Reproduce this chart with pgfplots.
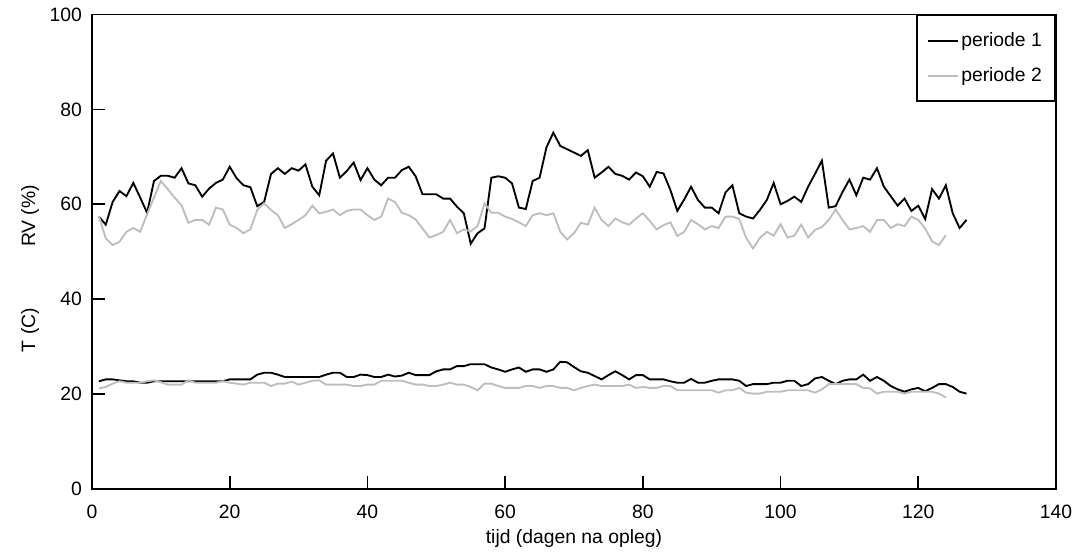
\documentclass[border=0pt]{standalone}
\usepackage{fontspec}
\setmainfont{Liberation Sans}
\usepackage{pgfplots}
\usepackage{pgfplotstable}
\pgfplotsset{compat=1.18}

% periode 1: dag, RV, T
\pgfplotstableread{
dag rv t
1 57.4 22.7
2 55.7 23.1
3 60.5 23.1
4 62.8 22.9
5 61.7 22.7
6 64.5 22.7
7 61.4 22.4
8 58.2 22.4
9 64.9 22.7
10 66.0 22.7
11 66.0 22.7
12 65.6 22.7
13 67.6 22.7
14 64.4 22.7
15 64.0 22.7
16 61.6 22.7
17 63.3 22.7
18 64.5 22.7
19 65.2 22.7
20 67.9 23.1
21 65.5 23.1
22 64.0 23.1
23 63.6 23.1
24 59.6 24.1
25 60.5 24.5
26 66.4 24.5
27 67.6 24.1
28 66.4 23.6
29 67.6 23.6
30 67.1 23.6
31 68.4 23.6
32 63.7 23.6
33 61.9 23.6
34 69.2 24.1
35 70.7 24.5
36 65.6 24.5
37 67.0 23.6
38 68.8 23.6
39 65.1 24.1
40 67.6 24.0
41 65.2 23.6
42 64.0 23.6
43 65.6 24.1
44 65.6 23.7
45 67.2 23.9
46 67.9 24.5
47 65.9 24.0
48 62.1 24.0
49 62.1 24.0
50 62.1 24.8
51 61.2 25.2
52 61.2 25.2
53 59.5 25.9
54 58.1 25.9
55 51.7 26.3
56 53.9 26.3
57 54.9 26.3
58 65.6 25.6
59 65.9 25.2
60 65.6 24.7
61 64.4 25.2
62 59.3 25.6
63 59.0 24.7
64 64.9 25.2
65 65.6 25.2
66 72.0 24.7
67 75.1 25.2
68 72.3 26.8
69 71.6 26.7
70 70.9 25.7
71 70.2 24.8
72 71.4 24.5
73 65.6 23.8
74 66.7 23.1
75 67.9 24.0
76 66.4 24.8
77 66.0 24.0
78 65.2 23.1
79 66.7 24.0
80 65.9 24.0
81 63.7 23.1
82 66.8 23.1
83 66.5 23.1
84 63.0 22.7
85 58.6 22.4
86 61.0 22.4
87 63.7 23.2
88 60.9 22.4
89 59.3 22.4
90 59.3 22.8
91 58.1 23.1
92 62.5 23.1
93 64.0 23.1
94 58.1 22.8
95 57.4 21.7
96 57.0 22.1
97 58.8 22.1
98 60.9 22.1
99 64.5 22.4
100 60.0 22.4
101 60.7 22.8
102 61.6 22.8
103 60.5 21.7
104 63.7 22.1
105 66.4 23.3
106 69.2 23.6
107 59.3 22.8
108 59.6 22.1
109 62.6 22.8
110 65.2 23.1
111 61.9 23.1
112 65.6 24.1
113 65.2 22.8
114 67.6 23.6
115 63.7 22.8
116 61.7 21.7
117 59.7 21.0
118 61.2 20.5
119 58.6 21.0
120 59.7 21.3
121 56.9 20.6
122 63.2 21.3
123 61.2 22.1
124 64.0 22.1
125 58.1 21.5
126 55.0 20.5
127 56.7 20.1
}\periodeA

% periode 2: dag, RV, T
\pgfplotstableread{
dag rv t
1 57.5 21.2
2 52.8 21.5
3 51.4 22.2
4 52.1 22.7
5 54.2 22.4
6 55.0 22.4
7 54.2 22.4
8 57.9 22.7
9 61.4 22.9
10 64.9 22.5
11 63.2 22.0
12 61.4 22.0
13 59.8 22.0
14 56.1 22.9
15 56.7 22.4
16 56.7 22.4
17 55.7 22.4
18 59.3 22.4
19 58.9 22.7
20 55.7 22.4
21 55.0 22.2
22 53.9 22.0
23 54.7 22.4
24 58.8 22.4
25 60.2 22.4
26 58.8 21.7
27 57.7 22.2
28 55.0 22.2
29 55.8 22.6
30 56.7 22.0
31 57.7 22.4
32 59.7 22.8
33 58.1 22.9
34 58.4 22.0
35 58.9 22.0
36 57.7 22.0
37 58.6 22.0
38 58.9 21.7
39 58.9 21.7
40 57.7 22.0
41 56.7 22.0
42 57.4 22.8
43 61.2 22.8
44 60.5 22.8
45 58.2 22.8
46 57.7 22.4
47 56.8 22.0
48 54.9 22.0
49 53.0 21.7
50 53.5 21.7
51 54.2 22.0
52 56.7 22.4
53 53.9 22.0
54 54.7 22.0
55 54.3 21.5
56 55.4 20.8
57 60.2 22.2
58 58.2 22.2
59 58.2 21.7
60 57.4 21.3
61 56.9 21.3
62 56.2 21.3
63 55.4 21.7
64 57.7 21.7
65 58.1 21.3
66 57.7 21.7
67 58.1 21.7
68 54.2 21.3
69 52.6 21.3
70 53.9 20.8
71 56.1 21.3
72 55.7 21.7
73 59.3 22.0
74 56.7 21.7
75 55.4 21.7
76 57.0 21.7
77 56.2 21.7
78 55.7 22.0
79 57.0 21.3
80 58.1 21.5
81 56.5 21.3
82 54.7 21.3
83 55.6 21.7
84 56.2 21.7
85 53.3 20.8
86 54.2 20.8
87 56.7 20.8
88 55.8 20.8
89 54.7 20.8
90 55.4 20.8
91 55.0 20.3
92 57.4 20.8
93 57.4 20.8
94 56.9 21.3
95 52.9 20.3
96 50.7 20.1
97 52.9 20.1
98 54.2 20.5
99 53.4 20.5
100 55.8 20.5
101 53.0 20.8
102 53.4 20.8
103 55.7 20.8
104 53.0 20.8
105 54.6 20.3
106 55.2 21.0
107 56.7 22.1
108 58.9 22.1
109 56.7 22.1
110 54.7 22.1
111 55.0 22.1
112 55.4 21.3
113 54.2 21.2
114 56.7 20.1
115 56.7 20.5
116 55.0 20.5
117 55.8 20.5
118 55.4 20.1
119 57.4 20.5
120 56.7 20.5
121 54.9 20.5
122 52.2 20.5
123 51.4 20.1
124 53.5 19.3
}\periodeB

\definecolor{lichtgrijs}{RGB}{190,190,190}

\begin{document}
\begin{tikzpicture}[font=\fontsize{14.5}{17}\selectfont]
\useasboundingbox (-69pt,-52.5pt) rectangle (741.75pt,366.75pt);
\begin{axis}[
    at={(0pt,0pt)}, anchor=south west,
    scale only axis,
    width=723pt, height=355.9pt,
    xmin=0, xmax=140, ymin=0, ymax=100,
    xtick distance=20, ytick distance=20,
    tick align=inside,
    xtick pos=bottom, ytick pos=left,
    major tick length=10pt,
    axis line style={line width=1.2pt},
    every tick/.style={black, line width=1.2pt},
    /pgf/number format/assume math mode=true,
    tick label style={font=\fontsize{14.5}{17}\selectfont},
    xticklabel style={yshift=-8.5pt},
    yticklabel style={xshift=-4pt},
    legend style={
        at={(1,1)}, anchor=north east,
        draw=black, line width=1.2pt,
        font=\fontsize{14.5}{17}\selectfont,
        row sep=10.5pt, inner xsep=8pt, inner ysep=11pt,
        cells={anchor=west},
    },
    legend image code/.code={\draw[#1] (0pt,0pt) -- (22pt,0pt);},
]
\addplot[black, line width=1.4pt] table[x=dag, y=rv] {\periodeA};
\addlegendentry{periode 1}
\addplot[lichtgrijs, line width=1.4pt] table[x=dag, y=rv] {\periodeB};
\addlegendentry{periode 2}
\addplot[black, line width=1.4pt, forget plot] table[x=dag, y=t] {\periodeA};
\addplot[lichtgrijs, line width=1.4pt, forget plot] table[x=dag, y=t] {\periodeB};
\end{axis}
\node[rotate=90] at (-46.5pt,204.75pt) {RV (\%)};
\node[rotate=90] at (-46.5pt,119.25pt) {T (C)};
\node at (361.5pt,-37.5pt) {tijd (dagen na opleg)};
\end{tikzpicture}
\end{document}
